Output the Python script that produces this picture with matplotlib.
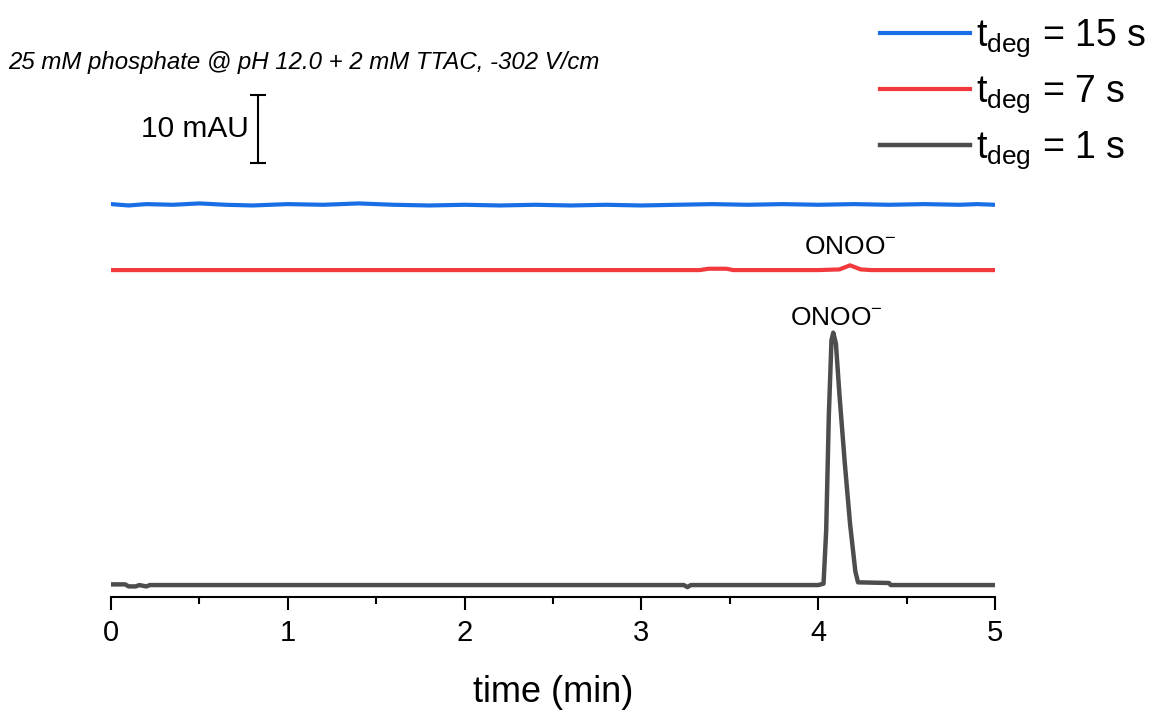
import matplotlib.pyplot as plt

plt.rcParams['font.family'] = ['Liberation Sans', 'DejaVu Sans']
plt.rcParams['mathtext.fontset'] = 'custom'
plt.rcParams['mathtext.rm'] = 'Liberation Sans'

# electropherograms (absorbance in mAU, offset per trace)
blue_t = [0.0, 0.1, 0.2, 0.35, 0.5, 0.65, 0.8, 1.0, 1.2, 1.4, 1.6, 1.8, 2.0, 2.2, 2.4,
          2.6, 2.8, 3.0, 3.2, 3.4, 3.6, 3.8, 4.0, 4.2, 4.4, 4.6, 4.8, 4.9, 5.0]
blue_y = [56.0, 55.8, 56.0, 55.9, 56.1, 55.9, 55.8, 56.0, 55.9, 56.1, 55.9, 55.8, 55.9, 55.8, 55.9,
          55.8, 55.9, 55.8, 55.9, 56.0, 55.9, 56.0, 55.9, 56.0, 55.9, 56.0, 55.9, 56.0, 55.9]

red_t = [0.0, 0.5, 1.0, 1.5, 2.0, 2.5, 3.0, 3.33, 3.38, 3.48, 3.52, 4.0, 4.12, 4.18, 4.24, 4.3, 5.0]
red_y = [46.3, 46.3, 46.3, 46.3, 46.3, 46.3, 46.3, 46.3, 46.5, 46.5, 46.3, 46.3, 46.4, 47.0, 46.4, 46.3, 46.3]

gray_t = [0.0, 0.08, 0.1, 0.14, 0.16, 0.2, 0.22, 1.0, 2.0, 3.0, 3.24, 3.26, 3.28, 4.0, 4.03,
          4.045, 4.06, 4.075, 4.085, 4.1, 4.12, 4.15, 4.18, 4.21, 4.225, 4.4, 4.41, 5.0]
gray_y = [0.1, 0.1, -0.2, -0.2, 0.0, -0.2, 0.0, 0.0, 0.0, 0.0, 0.0, -0.3, 0.0, 0.0, 0.2,
          8.0, 25.0, 36.0, 37.1, 35.5, 28.0, 18.0, 9.0, 2.0, 0.4, 0.3, 0.0, 0.0]

labels = [r'$\mathregular{t_{deg}}$ = 15 s', r'$\mathregular{t_{deg}}$ = 7 s', r'$\mathregular{t_{deg}}$ = 1 s']
colors = ['#1a6fe6', '#f23a3c', '#4d4d4d']

fig = plt.figure(figsize=(11.49, 7.11), dpi=100)
ax = fig.add_axes([0.0966, 0.1603, 0.7694, 0.81])

ax.plot(blue_t, blue_y, color=colors[0], lw=3.0, label=labels[0])
ax.plot(red_t, red_y, color=colors[1], lw=3.0, label=labels[1])
ax.plot(gray_t, gray_y, color=colors[2], lw=3.2, label=labels[2])

ax.set_xlim(0, 5)
ax.set_ylim(-1.76, 82.9)
for s in ['top', 'right', 'left']:
    ax.spines[s].set_visible(False)
ax.spines['bottom'].set_linewidth(1.5)
ax.set_yticks([])
ax.set_xticks([0, 1, 2, 3, 4, 5])
ax.set_xticks([0.5, 1.5, 2.5, 3.5, 4.5], minor=True)
ax.tick_params(axis='x', which='major', length=9, width=1.5, labelsize=21, pad=7)
ax.tick_params(axis='x', which='minor', length=5, width=1.5)
ax.set_xlabel('time (min)', fontsize=26, labelpad=20)

# scale bar 10 mAU
ax.errorbar([0.83], [67.0], yerr=[5.0], color='black', lw=1.5, capsize=6, capthick=1.5)
ax.text(0.78, 67.0, '10 mAU', fontsize=21.5, ha='right', va='center')

fig.text(0.007, 0.912, '25 mM phosphate @ pH 12.0 + 2 mM TTAC, -302 V/cm',
         fontsize=17.3, style='italic', ha='left', va='center')

ax.text(4.18, 48.0, r'ONOO$^{\mathregular{-}}$', fontsize=19, ha='center', va='bottom')
ax.text(4.1, 37.5, r'ONOO$^{\mathregular{-}}$', fontsize=19, ha='center', va='bottom')

fig.legend(loc='upper right', bbox_to_anchor=(1.017, 1.007), frameon=False, fontsize=27,
           handlelength=2.4, handletextpad=0.15, labelspacing=0.38, borderaxespad=0.2)

fig.savefig('out.png', dpi=100)
